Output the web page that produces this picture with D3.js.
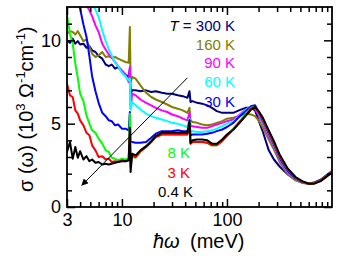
<!DOCTYPE html>
<html>
<head>
<meta charset="utf-8">
<script src="https://cdn.jsdelivr.net/npm/d3@7"></script>
<style>
body { margin: 0; background: #fff; }
text { font-family: "Liberation Sans", Arial, sans-serif; }
</style>
</head>
<body>
<svg id="chart" width="350" height="258"></svg>
<script>
// photon energy grid (meV), shared by all the curves
var energy = [3.0, 3.2, 3.4, 3.6, 3.8, 4.0, 4.3, 4.6, 4.9, 5.2, 5.6, 6.0, 6.5, 7.0, 7.5, 8.0, 8.6, 9.2, 10, 10.8, 11.6,
	11.9, 12.1, 12.5,
	13.5, 15, 17, 19, 21, 24, 27, 30, 34, 38, 42,
	44, 45,
	47, 52, 58, 65, 72, 80, 90,
	100, 115, 130, 150, 170, 185, 200, 220, 250, 280, 320, 380, 450, 520, 600, 680, 780, 900, 1000];

var temps = ['300 K', '160 K', '90 K', '60 K', '30 K', '8 K', '3 K', '0.4 K'];
var colors = ['#00007f', '#808000', '#ff00ff', '#00ffff', '#0000ff', '#00ff00', '#ff0000', '#000000'];

// sigma(omega) in 10^3 Ohm^-1 cm^-1
var s300 = [10.0, 9.85, 10.1, 9.8, 9.95, 9.75, 9.8, 9.55, 9.65, 9.4, 9.3, 9.05, 8.9, 8.55, 8.45, 8.55, 8.3, 8.4, 8.1, 7.95, 7.8,
	8.3, 6.8, 7.0,
	7.0, 6.95, 7.0, 6.9, 6.95, 6.85, 6.8, 6.8, 6.7, 6.65, 6.55,
	6.95, 6.3,
	6.35, 6.25, 6.2, 6.1, 5.95, 5.75, 5.65,
	5.65, 5.65, 5.8, 5.95, 5.95, 5.8, 5.2, 4.5, 3.4, 2.85, 2.4, 1.95, 1.62, 1.48, 1.43, 1.47, 1.64, 1.95, 2.15];
var s160 = [10.4, 10.55, 10.5, 10.35, 10.55, 10.3, 9.95, 10.05, 9.6, 9.2, 9.0, 9.1, 9.3, 9.0, 9.05, 8.95, 9.0, 8.9, 8.8, 8.7, 8.65,
	10.8, 7.5, 7.8,
	7.7, 7.3, 6.85, 6.6, 6.45, 6.3, 6.15, 6.0, 5.9, 5.8, 5.65,
	5.95, 5.2,
	5.1, 5.05, 4.95, 4.9, 4.95, 5.05, 5.15,
	5.3, 5.35, 5.45, 5.6, 5.55, 5.45, 5.2, 4.75, 4.05, 3.45, 2.65, 1.95, 1.6, 1.45, 1.4, 1.45, 1.62, 1.92, 2.12];
var s90 = [15, 14.6, 14.2, 13.8, 13.4, 13.0, 12.5, 12.1, 11.8, 11.45, 10.9, 10.5, 9.8, 9.45, 9.15, 8.95, 8.7, 8.45, 8.2, 7.95, 7.5,
	8.4, 5.9, 6.8,
	6.7, 6.45, 6.25, 6.1, 5.95, 5.8, 5.7, 5.55, 5.45, 5.3, 5.2,
	5.65, 4.85,
	4.85, 4.8, 4.75, 4.75, 4.85, 4.95, 5.05,
	5.15, 5.25, 5.5, 5.85, 6.0, 5.9, 5.5, 5.0, 4.2, 3.6, 2.75, 2.05, 1.65, 1.46, 1.4, 1.45, 1.62, 1.92, 2.12];
var s60 = [16.5, 16, 15.5, 15, 14.5, 14.0, 13.4, 12.9, 12.5, 12.15, 11.85, 11.4, 10.6, 9.95, 9.45, 9.1, 8.65, 8.45, 8.05, 7.85, 7.6,
	7.7, 5.85, 6.3,
	6.1, 5.85, 5.6, 5.45, 5.35, 5.25, 5.15, 5.05, 5.0, 4.9, 4.8,
	5.3, 4.55,
	4.55, 4.5, 4.5, 4.55, 4.6, 4.7, 4.85,
	5.0, 5.15, 5.45, 5.8, 6.05, 6.05, 5.65, 5.1, 4.35, 3.7, 2.85, 2.1, 1.68, 1.47, 1.4, 1.45, 1.62, 1.92, 2.12];
var s30 = [15.5, 14.8, 14.0, 13.2, 12.3, 11.9, 10.95, 10.2, 9.05, 7.85, 6.95, 6.25, 5.65, 5.45, 5.2, 5.15, 4.9, 4.95, 4.7, 4.7, 4.6,
	5.7, 3.9, 3.9,
	3.85, 3.85, 3.9, 4.15, 4.4, 4.55, 4.55, 4.55, 4.6, 4.55, 4.55,
	5.0, 4.3,
	4.35, 4.35, 4.35, 4.4, 4.45, 4.55, 4.65,
	4.8, 5.05, 5.4, 5.75, 6.05, 6.1, 5.7, 5.15, 4.4, 3.75, 2.9, 2.15, 1.7, 1.48, 1.4, 1.45, 1.62, 1.92, 2.12];
var s8 = [11.5, 10.4, 9.8, 8.6, 7.75, 6.8, 6.35, 5.5, 5.0, 4.6, 4.45, 4.1, 3.8, 3.4, 3.3, 2.95, 2.9, 2.8, 2.9, 2.85, 2.9,
	5.6, 2.8, 3.0,
	2.95, 3.3, 3.6, 3.9, 4.2, 4.35, 4.35, 4.35, 4.35, 4.35, 4.35,
	4.8, 3.8,
	3.9, 3.9, 3.9, 3.85, 3.7, 3.7, 3.95,
	4.3, 4.7, 5.1, 5.55, 5.95, 6.0, 5.7, 5.25, 4.5, 3.85, 3.0, 2.25, 1.75, 1.5, 1.4, 1.42, 1.58, 1.88, 2.08];
var s3 = [7.4, 6.7, 6.6, 5.8, 5.6, 5.2, 4.9, 4.45, 4.3, 3.7, 3.4, 3.0, 3.05, 2.85, 2.9, 2.7, 2.75, 2.7, 2.8, 2.75, 2.8,
	4.5, 2.4, 3.1,
	3.0, 3.35, 3.6, 3.9, 4.2, 4.35, 4.35, 4.35, 4.35, 4.35, 4.35,
	4.8, 3.8,
	3.9, 3.9, 3.9, 3.85, 3.7, 3.7, 3.95,
	4.25, 4.65, 5.05, 5.5, 5.9, 6.0, 5.7, 5.25, 4.5, 3.85, 3.0, 2.25, 1.75, 1.5, 1.4, 1.42, 1.58, 1.88, 2.08];
var s04 = [3.3, 3.9, 2.9, 3.6, 2.95, 3.35, 2.85, 3.05, 2.75, 2.85, 2.65, 2.7, 2.55, 2.6, 2.55, 2.6, 2.65, 2.7, 2.75, 2.75, 2.8,
	4.75, 2.1, 3.2,
	3.1, 3.4, 3.65, 3.95, 4.25, 4.45, 4.45, 4.45, 4.45, 4.45, 4.45,
	5.2, 3.85,
	4.0, 4.05, 4.05, 4.0, 3.8, 3.8, 4.05,
	4.35, 4.65, 5.0, 5.45, 5.85, 6.0, 5.75, 5.35, 4.6, 3.95, 3.1, 2.3, 1.8, 1.55, 1.4, 1.4, 1.55, 1.85, 2.05];

var series = [s300, s160, s90, s60, s30, s8, s3, s04];

var xTicks = [3, 10, 100];
var yTicks = [0, 5, 10];

// arrow: from high T to low T, in data coords [meV, sigma]
var arrowFrom = [42, 7.75];
var arrowTo = [4.15, 1.3];

var svg = d3.select('#chart');
var x = d3.scaleLog().domain([3, 1000]).range([67, 332]);
var y = d3.scaleLinear().domain([0, 12]).range([207, 7]);

svg.append('clipPath').attr('id', 'clip')
	.append('rect')
	.attr('x', 67).attr('y', 7)
	.attr('width', 265).attr('height', 200);

var line = d3.line()
	.x(function(d) { return x(d[0]) })
	.y(function(d) { return y(d[1]) });

var curves = svg.append('g').attr('clip-path', 'url(#clip)');
series.forEach(function(vals, i) {
	curves.append('path')
		.datum(energy.map(function(e, j) { return [e, vals[j]] }))
		.attr('d', line)
		.attr('fill', 'none')
		.attr('stroke', colors[i])
		.attr('stroke-width', 2)
		.attr('stroke-linejoin', 'round');
});

// ticks: majors + minors, pointing inward on all 4 sides
var xMinor = x.ticks().filter(function(t) { return xTicks.indexOf(t) < 0 && t < 1000 });
var yMinor = y.ticks(12).filter(function(t) { return yTicks.indexOf(t) < 0 && t < 12 });

function styleAxis(g) {
	g.select('.domain').remove();
	g.selectAll('line').attr('stroke', '#000').attr('stroke-width', 1.5);
	g.selectAll('text').attr('font-size', 18).attr('fill', '#000');
}

svg.append('g').attr('transform', 'translate(0,207)')
	.call(d3.axisBottom(x).tickValues(xTicks).tickSize(-8).tickPadding(6).tickFormat(d3.format('d')))
	.call(styleAxis);
svg.append('g').attr('transform', 'translate(0,207)')
	.call(d3.axisBottom(x).tickValues(xMinor).tickSize(-5).tickFormat(''))
	.call(styleAxis);
svg.append('g').attr('transform', 'translate(0,7)')
	.call(d3.axisTop(x).tickValues(xTicks).tickSize(-8).tickFormat(''))
	.call(styleAxis);
svg.append('g').attr('transform', 'translate(0,7)')
	.call(d3.axisTop(x).tickValues(xMinor).tickSize(-5).tickFormat(''))
	.call(styleAxis);

svg.append('g').attr('transform', 'translate(67,0)')
	.call(d3.axisLeft(y).tickValues(yTicks).tickSize(-8).tickPadding(6))
	.call(styleAxis);
svg.append('g').attr('transform', 'translate(67,0)')
	.call(d3.axisLeft(y).tickValues(yMinor).tickSize(-5).tickFormat(''))
	.call(styleAxis);
svg.append('g').attr('transform', 'translate(332,0)')
	.call(d3.axisRight(y).tickValues(yTicks).tickSize(-8).tickFormat(''))
	.call(styleAxis);
svg.append('g').attr('transform', 'translate(332,0)')
	.call(d3.axisRight(y).tickValues(yMinor).tickSize(-5).tickFormat(''))
	.call(styleAxis);

svg.append('rect')
	.attr('x', 67).attr('y', 7)
	.attr('width', 265).attr('height', 200)
	.attr('fill', 'none')
	.attr('stroke', '#000')
	.attr('stroke-width', 1.8);

// arrow
svg.append('defs').append('marker')
	.attr('id', 'head')
	.attr('viewBox', '0 0 10 10')
	.attr('refX', 9).attr('refY', 5)
	.attr('markerWidth', 9).attr('markerHeight', 7)
	.attr('markerUnits', 'userSpaceOnUse')
	.attr('orient', 'auto')
	.append('path').attr('d', 'M0,0L10,5L0,10z').attr('fill', '#000');

svg.append('line')
	.attr('x1', x(arrowFrom[0])).attr('y1', y(arrowFrom[1]))
	.attr('x2', x(arrowTo[0])).attr('y2', y(arrowTo[1]))
	.attr('stroke', '#000')
	.attr('stroke-width', 1)
	.attr('marker-end', 'url(#head)');

// temperature labels
var upper = [31, 50, 68, 87, 107];
var lower = [158, 178, 197];
temps.forEach(function(t, i) {
	var txt = svg.append('text')
		.attr('font-size', 15)
		.attr('fill', colors[i]);
	if (i < 5) {
		txt.attr('x', 235).attr('y', upper[i]).attr('text-anchor', 'end');
	} else {
		txt.attr('x', 190).attr('y', lower[i - 5]).attr('text-anchor', 'end');
	}
	if (i == 0) {
		txt.append('tspan').attr('font-style', 'italic').attr('fill', '#000').text('T');
		txt.append('tspan').text(' = ' + t);
	} else {
		txt.text(t);
	}
});
svg.selectAll('text').filter(function() { return this.textContent == '0.4 K' }).attr('x', 193);

// axis titles
var xl = svg.append('text').attr('y', 248).attr('font-size', 20);
xl.append('tspan').attr('x', 153).attr('font-style', 'italic').text('ħω');
xl.append('tspan').attr('x', 190).text('(meV)');

var yl = svg.append('text')
	.attr('transform', 'translate(33,192) rotate(-90)')
	.attr('font-size', 20);
yl.append('tspan').text('σ (ω)  (10');
yl.append('tspan').attr('font-size', 13).attr('dy', -8).text('3');
yl.append('tspan').attr('dy', 8).text(' Ω');
yl.append('tspan').attr('font-size', 13).attr('dy', -8).text('-1');
yl.append('tspan').attr('dy', 8).text('cm');
yl.append('tspan').attr('font-size', 13).attr('dy', -8).text('-1');
yl.append('tspan').attr('dy', 8).text(')');
</script>
</body>
</html>
